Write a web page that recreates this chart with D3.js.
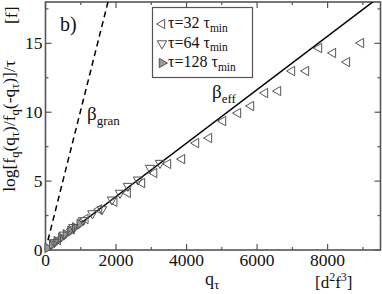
<!DOCTYPE html>
<html>
<head>
<meta charset="utf-8">
<script src="https://cdn.jsdelivr.net/npm/d3@7"></script>
<style>
body { margin: 0; background: #fff; }
svg text { font-family: "Liberation Serif", "DejaVu Serif", serif; fill: #111; }
</style>
</head>
<body>
<svg id="chart" width="382" height="294"></svg>
<script>
// tau = 32 tau_min (open left triangles)
const q32 = [350, 740, 1130, 1520, 1950, 2330, 2736, 3080, 3473, 3870, 4267, 4636, 5033, 5458, 5827, 6224, 6593, 6989, 7386, 7755, 8151, 8548, 8945];
const v32 = [0.72, 1.5, 2.25, 2.95, 3.5, 4.14, 4.86, 5.59, 6.25, 6.6, 7.76, 8.13, 9.36, 9.94, 10.45, 11.39, 11.54, 12.99, 12.99, 14.66, 14.3, 13.64, 15.02];
// tau = 64 tau_min (open down triangles)
const q64 = [250, 520, 790, 1060, 1330, 1602, 1885, 2112, 2339, 2623, 2963, 3247];
const v64 = [0.55, 1.1, 1.65, 2.15, 2.65, 2.95, 3.65, 4.14, 4.64, 5.1, 5.95, 6.31];
// tau = 128 tau_min (filled right triangles)
const q128 = [60, 190, 320, 450, 580, 710, 840, 970];
const v128 = [0.15, 0.4, 0.65, 0.9, 1.15, 1.4, 1.65, 1.9];

const xTicks = [0, 2000, 4000, 6000, 8000];
const yTicks = [0, 5, 10, 15];
const slopeEff = 0.00194;
const slopeGran = 0.01016;

const svg = d3.select("#chart");
const pLeft = 45.5, pRight = 380.5, pTop = 2, pBottom = 250;

const x = d3.scaleLinear().domain([0, 9500]).range([pLeft, pRight]);
const y = d3.scaleLinear().domain([0, 18]).range([pBottom, pTop]);

const axisColor = "#555";
const serif = "'Liberation Serif', 'DejaVu Serif', serif";

// frame ticks (inside, mirrored on all sides)
function tickLines(g, vals, len, side) {
    vals.forEach(function(v) {
        let l = g.append("line").attr("stroke", axisColor).attr("stroke-width", 1.2);
        if (side === "bottom") l.attr("x1", x(v)).attr("x2", x(v)).attr("y1", pBottom).attr("y2", pBottom - len);
        if (side === "top") l.attr("x1", x(v)).attr("x2", x(v)).attr("y1", pTop).attr("y2", pTop + len);
        if (side === "left") l.attr("y1", y(v)).attr("y2", y(v)).attr("x1", pLeft).attr("x2", pLeft + len);
        if (side === "right") l.attr("y1", y(v)).attr("y2", y(v)).attr("x1", pRight).attr("x2", pRight - len);
    });
}
const g = svg.append("g");
const xMajor = d3.range(0, 9501, 2000), xMinor = d3.range(1000, 9501, 2000);
const yMajor = d3.range(0, 18.1, 5), yMinor = d3.range(2.5, 18.1, 5);
["bottom", "top"].forEach(s => { tickLines(g, xMajor, 6, s); tickLines(g, xMinor, 3, s); });
["left", "right"].forEach(s => { tickLines(g, yMajor, 6, s); tickLines(g, yMinor, 3, s); });

g.append("rect")
    .attr("x", pLeft).attr("y", pTop)
    .attr("width", pRight - pLeft).attr("height", pBottom - pTop)
    .attr("fill", "none").attr("stroke", axisColor).attr("stroke-width", 1.6);

// tick labels
g.selectAll(".xl").data(xTicks).join("text")
    .attr("font-family", serif)
    .attr("x", d => x(d)).attr("y", pBottom + 16)
    .attr("text-anchor", "middle").attr("font-size", 17.5)
    .text(d => d);
g.selectAll(".yl").data(yTicks).join("text")
    .attr("font-family", serif)
    .attr("x", pLeft - 3).attr("y", d => y(d) + 6)
    .attr("text-anchor", "end").attr("font-size", 17.5)
    .text(d => d);

// fit lines
svg.append("clipPath").attr("id", "c").append("rect")
    .attr("x", pLeft).attr("y", pTop).attr("width", pRight - pLeft).attr("height", pBottom - pTop);
const lines = svg.append("g").attr("clip-path", "url(#c)");
lines.append("line")
    .attr("x1", x(0)).attr("y1", y(0)).attr("x2", x(9500)).attr("y2", y(9500 * slopeEff))
    .attr("stroke", "#000").attr("stroke-width", 1.5);
lines.append("line")
    .attr("x1", x(0)).attr("y1", y(0)).attr("x2", x(2000)).attr("y2", y(2000 * slopeGran))
    .attr("stroke", "#000").attr("stroke-width", 1.5).attr("stroke-dasharray", "6,4");

// markers
const tri = d3.symbol().type(d3.symbolTriangle).size(38);
function drawSeries(qs, vs, rot, fill) {
    svg.append("g").selectAll("path").data(qs).join("path")
        .attr("d", tri)
        .attr("transform", (d, i) => `translate(${x(d)},${y(vs[i])}) rotate(${rot})`)
        .attr("fill", fill).attr("stroke", "#555").attr("stroke-width", 1);
}
drawSeries(q128, v128, 90, "#999");
drawSeries(q64, v64, 180, "none");
drawSeries(q32, v32, -90, "none");

// legend
const lg = svg.append("g");
lg.append("rect").attr("x", 152.5).attr("y", 7.5).attr("width", 100).attr("height", 70)
    .attr("fill", "#fff").attr("stroke", axisColor).attr("stroke-width", 1.2);
const legendItems = [["32", -90, "none"], ["64", 180, "none"], ["128", 90, "#999"]];
legendItems.forEach(function(it, i) {
    const ly = 24 + i * 19.5;
    lg.append("path").attr("d", tri)
        .attr("transform", `translate(162,${ly}) rotate(${it[1]})`)
        .attr("fill", it[2]).attr("stroke", "#555").attr("stroke-width", 1);
    const t = lg.append("text").attr("font-family", serif)
        .attr("x", 168).attr("y", ly + 4).attr("font-size", 16);
    t.append("tspan").text("τ=" + it[0] + " τ");
    t.append("tspan").attr("dy", 3.5).attr("font-size", 11.5).text("min");
});

// annotations
svg.append("text").attr("font-family", serif)
    .attr("x", 60).attr("y", 31).attr("font-size", 20).text("b)");
const bg = svg.append("text").attr("font-family", serif)
    .attr("x", 87).attr("y", 120).attr("font-size", 19);
bg.append("tspan").text("β");
bg.append("tspan").attr("dy", 5).attr("font-size", 13).text("gran");
const be = svg.append("text").attr("font-family", serif)
    .attr("x", 212).attr("y", 98).attr("font-size", 19);
be.append("tspan").text("β");
be.append("tspan").attr("dy", 5).attr("font-size", 13).text("eff");

// axis labels
const xl = svg.append("text").attr("font-family", serif)
    .attr("x", 205).attr("y", 285).attr("font-size", 18);
xl.append("tspan").text("q");
xl.append("tspan").attr("dy", 4).attr("font-size", 13).text("τ");
const ul = svg.append("text").attr("font-family", serif)
    .attr("x", 315).attr("y", 288).attr("font-size", 17);
ul.append("tspan").text("[d");
ul.append("tspan").attr("dy", -7).attr("font-size", 12).text("2");
ul.append("tspan").attr("dy", 7).text("f");
ul.append("tspan").attr("dy", -7).attr("font-size", 12).text("3");
ul.append("tspan").attr("dy", 7).text("]");

const yl = svg.append("text").attr("font-family", serif)
    .attr("transform", "translate(15,126) rotate(-90)")
    .attr("text-anchor", "middle")
    .attr("font-size", 17.5);
const sub = 12.5;
yl.append("tspan").text("log[f");
yl.append("tspan").attr("dy", 4).attr("font-size", sub).text("q");
yl.append("tspan").attr("dy", -4).text("(q");
yl.append("tspan").attr("dy", 4).attr("font-size", sub).text("τ");
yl.append("tspan").attr("dy", -4).text(")/f");
yl.append("tspan").attr("dy", 4).attr("font-size", sub).text("q");
yl.append("tspan").attr("dy", -4).text("(-q");
yl.append("tspan").attr("dy", 4).attr("font-size", sub).text("τ");
yl.append("tspan").attr("dy", -4).text(")]/τ");
svg.append("text").attr("font-family", serif)
    .attr("transform", "translate(17,24) rotate(-90)")
    .attr("font-size", 17.5).text("[f]");
</script>
</body>
</html>
